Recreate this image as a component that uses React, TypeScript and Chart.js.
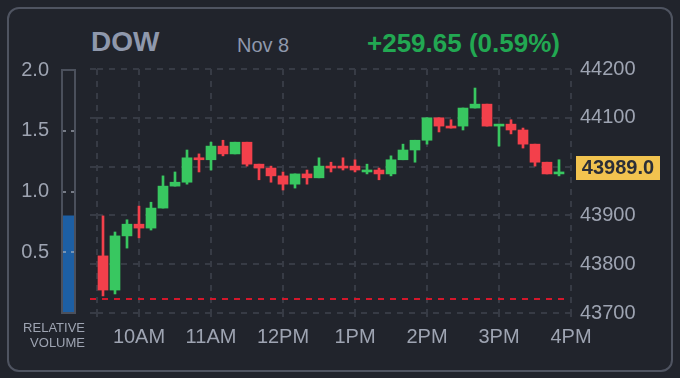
import React, { useEffect, useRef } from 'react';
import { Chart, registerables } from 'chart.js';

Chart.register(...registerables);

// ---------- data ----------
const candleTimes = [
  '09:30', '09:40', '09:50', '10:00', '10:10', '10:20', '10:30', '10:40', '10:50',
  '11:00', '11:10', '11:20', '11:30', '11:40', '11:50', '12:00', '12:10', '12:20',
  '12:30', '12:40', '12:50', '13:00', '13:10', '13:20', '13:30', '13:40', '13:50',
  '14:00', '14:10', '14:20', '14:30', '14:40', '14:50', '15:00', '15:10', '15:20',
  '15:30', '15:40', '15:50',
];
const openValues = [
  43817, 43747, 43858, 43882, 43874, 43915, 43960, 43968, 44018,
  44014, 44042, 44026, 44050, 44005, 43997, 43981, 43964, 43985,
  43977, 44001, 44001, 44001, 43989, 43993, 43985, 44014, 44034,
  44054, 44100, 44083, 44083, 44120, 44128, 44083, 44087, 44075,
  44046, 44009, 43985,
];
const highValues = [
  43899, 43866, 43891, 43919, 43927, 43981, 43989, 44034, 44026,
  44050, 44054, 44050, 44050, 44005, 44001, 43989, 43985, 43993,
  44018, 44009, 44018, 44014, 44005, 43997, 44022, 44046, 44054,
  44100, 44100, 44096, 44120, 44161, 44128, 44087, 44096, 44079,
  44046, 44009, 44014,
];
const lowValues = [
  43735, 43739, 43833, 43854, 43870, 43915, 43960, 43964, 43989,
  43993, 44022, 44026, 44001, 43973, 43968, 43952, 43956, 43964,
  43977, 43989, 43993, 43989, 43985, 43973, 43981, 44014, 44009,
  44046, 44071, 44079, 44075, 44120, 44083, 44042, 44067, 44038,
  44001, 43985, 43981,
];
const closeValues = [
  43747, 43858, 43882, 43874, 43915, 43960, 43968, 44018, 44014,
  44042, 44026, 44050, 44005, 43997, 43981, 43964, 43985, 43977,
  44001, 43997, 43997, 43993, 43993, 43985, 44014, 44034, 44054,
  44100, 44083, 44079, 44120, 44128, 44083, 44087, 44075, 44046,
  44009, 43985, 43989,
];
const axisTimes = ['10:00', '11:00', '12:00', '13:00', '14:00', '15:00', '16:00'];
const axisLabels = ['10AM', '11AM', '12PM', '1PM', '2PM', '3PM', '4PM'];
const sessionFrom = '09:25';
const sessionTo = '16:00';
const priceTicks = [43700, 43800, 43900, 44000, 44100, 44200];
const previousClose = 43729.35;
const lastPrice = 43989.0;
const relativeVolume = [0.8];
const volumeTicks = [0, 0.5, 1.0, 1.5, 2.0];

const symbolText = 'DOW';
const dateText = 'Nov 8';
const changeText = '+259.65 (0.59%)';

// ---------- styles ----------
const BG = '#21242c';
const GRID = '#373b45';
const LABEL = '#9ea4b2';
const GREEN = '#38c760';
const RED = '#f3404b';
const PREV_RED = '#d3172b';
const YELLOW = '#f2c34f';
const FONT = "'Liberation Sans', Arial, Helvetica, sans-serif";

const toMin = (s: string) => {
  const [h, m] = s.split(':').map(Number);
  return h * 60 + m - (9 * 60 + 30);
};

export default function App() {
  const mainRef = useRef<HTMLCanvasElement>(null);
  const volRef = useRef<HTMLCanvasElement>(null);

  useEffect(() => {
    Chart.defaults.font.family = FONT;
    const axisMinutes = axisTimes.map(toMin);
    const colors = candleTimes.map((_, i) => (closeValues[i] >= openValues[i] ? GREEN : RED));
    const bodies = candleTimes.map((t, i) => ({ x: toMin(t), y: [openValues[i], closeValues[i]] }));
    const wicks = candleTimes.map((t, i) => ({ x: toMin(t), y: [lowValues[i], highValues[i]] }));
    const pMin = Math.min(...priceTicks);
    const pMax = Math.max(...priceTicks);

    const prevClosePlugin = {
      id: 'prevClose',
      beforeDatasetsDraw(chart: any) {
        const { ctx, chartArea, scales } = chart;
        const y = Math.round(scales.y.getPixelForValue(previousClose));
        ctx.save();
        ctx.strokeStyle = PREV_RED;
        ctx.lineWidth = 2;
        ctx.setLineDash([6, 6]);
        ctx.beginPath();
        ctx.moveTo(chartArea.left - 7, y);
        ctx.lineTo(chartArea.right - 6, y);
        ctx.stroke();
        ctx.restore();
      },
    };
    const lastLabelPlugin = {
      id: 'lastLabel',
      afterDraw(chart: any) {
        const { ctx, chartArea, scales } = chart;
        const y = scales.y.getPixelForValue(lastPrice) - 4;
        const x = chartArea.right + 5;
        ctx.save();
        ctx.fillStyle = YELLOW;
        ctx.fillRect(x, Math.round(y - 12), 84, 24);
        ctx.fillStyle = '#2b2e37';
        ctx.font = `bold 20px ${FONT}`;
        ctx.textAlign = 'center';
        ctx.textBaseline = 'middle';
        ctx.fillText(lastPrice.toFixed(1), x + 42, y + 1);
        ctx.restore();
      },
    };

    const main = new Chart(mainRef.current!, {
      type: 'bar',
      data: {
        datasets: [
          {
            data: bodies as any,
            backgroundColor: colors,
            barThickness: 10,
            minBarLength: 2,
            grouped: false,
            borderWidth: 0,
            xAxisID: 'x',
            yAxisID: 'y',
          },
          {
            data: wicks as any,
            backgroundColor: colors,
            barThickness: 2,
            grouped: false,
            borderWidth: 0,
            xAxisID: 'x',
            yAxisID: 'y',
          },
        ],
      },
      options: {
        animation: false,
        responsive: false,
        devicePixelRatio: 1,
        layout: { padding: { left: 10, top: 69, right: 0, bottom: 0 } },
        plugins: { legend: { display: false }, tooltip: { enabled: false } },
        scales: {
          x: {
            type: 'linear',
            position: 'bottom',
            min: toMin(sessionFrom),
            max: toMin(sessionTo),
            offset: false,
            afterBuildTicks: (s: any) => {
              s.ticks = [{ value: s.min }, ...axisMinutes.map((v) => ({ value: v }))];
            },
            afterFit: (s: any) => {
              s.height = 65;
            },
            grid: {
              color: GRID,
              lineWidth: 2,
              drawTicks: true,
              tickLength: 4,
              tickColor: GRID,
              tickWidth: 2,
              tickBorderDash: [6, 6],
              offset: false,
            },
            border: { display: false, dash: [6, 6] },
            ticks: {
              autoSkip: false,
              maxRotation: 0,
              minRotation: 0,
              padding: 8,
              color: LABEL,
              font: { size: 20 },
              callback: (v: any) => {
                const i = axisMinutes.indexOf(Number(v));
                return i >= 0 ? axisLabels[i] : '';
              },
            },
          },
          yL: {
            type: 'linear',
            position: 'left',
            min: pMin,
            max: pMax,
            afterBuildTicks: (s: any) => {
              s.ticks = priceTicks.map((v) => ({ value: v }));
            },
            afterFit: (s: any) => {
              s.width = 7;
            },
            grid: {
              color: GRID,
              lineWidth: 2,
              drawTicks: true,
              tickLength: 7,
              tickColor: GRID,
              tickWidth: 2,
              tickBorderDash: [6, 6],
            },
            border: { display: false, dash: [6, 6] },
            ticks: { display: false },
          },
          y: {
            type: 'linear',
            position: 'right',
            min: pMin,
            max: pMax,
            afterBuildTicks: (s: any) => {
              s.ticks = priceTicks.map((v) => ({ value: v }));
            },
            afterFit: (s: any) => {
              s.width = 109;
            },
            grid: { display: false, drawTicks: false, tickLength: 0 },
            border: { display: false },
            ticks: {
              padding: 9,
              color: LABEL,
              font: { size: 20 },
              callback: (v: any) => (Math.abs(Number(v) - lastPrice) < 30 ? '' : String(v)),
            },
          },
        },
      },
      plugins: [prevClosePlugin, lastLabelPlugin],
    } as any);

    const boxPlugin = {
      id: 'volBox',
      afterDraw(chart: any) {
        const { ctx, chartArea } = chart;
        ctx.save();
        ctx.strokeStyle = '#4b505c';
        ctx.lineWidth = 2;
        ctx.strokeRect(chartArea.left, chartArea.top, chartArea.right - chartArea.left, chartArea.bottom - chartArea.top);
        ctx.restore();
      },
    };

    const vol = new Chart(volRef.current!, {
      type: 'bar',
      data: {
        labels: [''],
        datasets: [
          {
            data: relativeVolume,
            backgroundColor: '#1d5fa4',
            barPercentage: 1,
            categoryPercentage: 1,
            borderWidth: 0,
          },
        ],
      },
      options: {
        animation: false,
        responsive: false,
        devicePixelRatio: 1,
        layout: { padding: { left: 0, top: 70, right: 5, bottom: 65 } },
        plugins: { legend: { display: false }, tooltip: { enabled: false } },
        scales: {
          x: { display: false },
          y: {
            position: 'left',
            min: Math.min(...volumeTicks),
            max: Math.max(...volumeTicks),
            afterBuildTicks: (s: any) => {
              s.ticks = volumeTicks.map((v) => ({ value: v }));
            },
            afterFit: (s: any) => {
              s.width = 62;
            },
            grid: {
              z: 1,
              lineWidth: 2,
              drawTicks: false,
              color: (c: any) => {
                const v = c.tick ? c.tick.value : 0;
                return v === Math.min(...volumeTicks) || v === Math.max(...volumeTicks)
                  ? 'rgba(0,0,0,0)'
                  : 'rgba(175,182,195,0.6)';
              },
            },
            border: { display: false, dash: [3, 5], dashOffset: -1 },
            ticks: {
              padding: 13,
              color: LABEL,
              font: { size: 20 },
              callback: (v: any) => (Number(v) === 0 ? '' : Number(v).toFixed(1)),
            },
          },
        },
      },
      plugins: [boxPlugin],
    } as any);

    return () => {
      main.destroy();
      vol.destroy();
    };
  }, []);

  return (
    <div
      style={{
        position: 'fixed',
        left: 0,
        top: 0,
        width: 680,
        height: 378,
        background: BG,
        overflow: 'hidden',
        fontFamily: FONT,
      }}
    >
      <div
        style={{
          position: 'absolute',
          left: 7,
          top: 7,
          width: 666,
          height: 365,
          border: '2px solid #4f5461',
          borderRadius: 12,
          boxSizing: 'border-box',
        }}
      />
      <div
        style={{
          position: 'absolute',
          left: 91,
          top: 28,
          fontSize: 28,
          lineHeight: '28px',
          fontWeight: 'bold',
          color: '#8f98ac',
          whiteSpace: 'nowrap',
        }}
      >
        {symbolText}
      </div>
      <div
        style={{
          position: 'absolute',
          left: 237,
          top: 35,
          fontSize: 20,
          lineHeight: '20px',
          color: '#8f98ac',
          whiteSpace: 'nowrap',
        }}
      >
        {dateText}
      </div>
      <div
        style={{
          position: 'absolute',
          left: 367,
          top: 30,
          fontSize: 26,
          lineHeight: '26px',
          fontWeight: 'bold',
          color: '#22a852',
          whiteSpace: 'nowrap',
        }}
      >
        {changeText}
      </div>
      <canvas
        ref={volRef}
        width={80}
        height={378}
        style={{ position: 'absolute', left: 0, top: 0, width: 80, height: 378 }}
      />
      <canvas
        ref={mainRef}
        width={600}
        height={378}
        style={{ position: 'absolute', left: 80, top: 0, width: 600, height: 378 }}
      />
      <div
        style={{
          position: 'absolute',
          left: 0,
          width: 85,
          top: 320,
          fontSize: 13,
          lineHeight: '15px',
          color: LABEL,
          textAlign: 'right',
        }}
      >
        RELATIVE
        <br />
        VOLUME
      </div>
    </div>
  );
}
